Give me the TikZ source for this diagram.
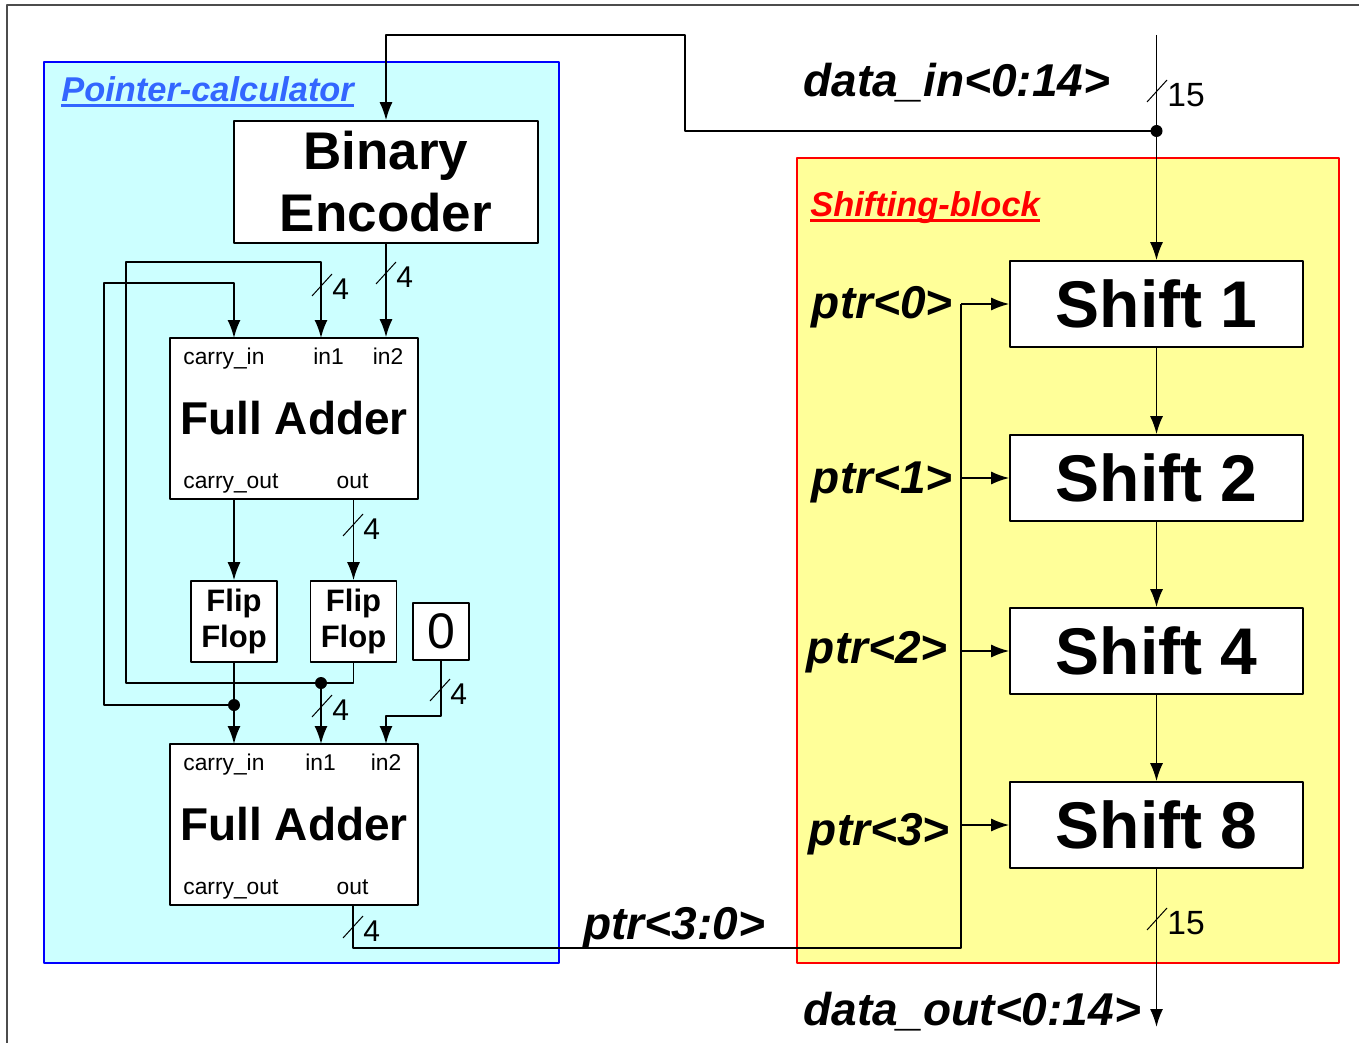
\documentclass[tikz,border=0pt]{standalone}
\usepackage{fontspec}
\setmainfont{Liberation Sans}
\usetikzlibrary{arrows.meta,calc}

\definecolor{calcfill}{RGB}{204,255,255}
\definecolor{calcblue}{RGB}{51,102,255}
\definecolor{shiftfill}{RGB}{255,255,153}

% bus width mark: name, x, y, label
\newcommand{\busmark}[4]{%
  \draw[slash] (#2-10,#3+11) -- (#2+10,#3-11);
  \node[buslbl,anchor=west] (#1) at (#2+10,#3+4) {#4};}
\newcommand{\widebus}{\fontsize{16.8}{19}\selectfont}

\begin{document}
\begin{tikzpicture}[x=0.5pt,y=-0.5pt,>={Latex[length=9pt,width=6.5pt]},line join=round,
    blk/.style={draw,fill=white,line width=0.8pt,inner sep=0pt},
    port/.style={font=\fontsize{11.4}{13}\selectfont,inner sep=0pt},
    sig/.style={font=\fontsize{23}{27}\selectfont\bfseries\itshape,inner sep=0pt},
    title/.style={font=\fontsize{17.2}{20}\selectfont\bfseries\itshape,inner sep=0pt,anchor=base west},
    wire/.style={line width=0.9pt},
    slash/.style={line width=0.5pt},
    buslbl/.style={font=\fontsize{15}{17}\selectfont,inner sep=0pt}]
  \useasboundingbox (0,0) rectangle (1359,1043);
  \draw[black!70,line width=1pt] (7,1043) -- (7,5) -- (1359,5);

  % the two blocks
  \draw[blue,fill=calcfill,line width=0.75pt] (44,62) rectangle (559,963);
  \draw[red,fill=shiftfill,line width=0.75pt] (797,158) rectangle (1339,963);
  \node[title,text=calcblue] (pctitle) at (61,102) {Pointer-calculator};
  \draw[calcblue,line width=1.5pt] ($(pctitle.base west)+(0,4)$) -- ($(pctitle.base east)+(0,4)$);
  \node[title,text=red] (sbtitle) at (810,217) {Shifting-block};
  \draw[red,line width=1.5pt] ($(sbtitle.base west)+(0,4)$) -- ($(sbtitle.base east)+(0,4)$);

  % pointer calculator
  \node[blk,minimum width=152pt,minimum height=61pt,align=center,
        font=\fontsize{26.5}{31}\selectfont\bfseries] (enc) at (386,182) {Binary\\Encoder};
  \node[blk,minimum width=124pt,minimum height=80.5pt,
        font=\fontsize{23}{27}\selectfont\bfseries] (fa1) at (294,418.5) {Full Adder};
  \node[blk,minimum width=124pt,minimum height=80.5pt,
        font=\fontsize{23}{27}\selectfont\bfseries] (fa2) at (294,824.5) {Full Adder};
  \node[blk,minimum width=43pt,minimum height=40.5pt,align=center,
        font=\fontsize{15.5}{18}\selectfont\bfseries] (ff1) at (234,621.5) {Flip\\Flop};
  \node[blk,minimum width=43pt,minimum height=40.5pt,align=center,
        font=\fontsize{15.5}{18}\selectfont\bfseries] (ff2) at (353.5,621.5) {Flip\\Flop};
  \node[blk,minimum width=28pt,minimum height=28.5pt,
        font=\fontsize{25}{30}\selectfont] (zero) at (441,631.5) {0};

  \node[port,anchor=base west] (l1ci) at (183,364) {carry\_in};
  \node[port,anchor=base] (l1in1) at (328.5,364) {in1};
  \node[port,anchor=base] (l1in2) at (388,364) {in2};
  \node[port,anchor=base west] (l1co) at (183,488) {carry\_out};
  \node[port,anchor=base] (l1out) at (352.5,488) {out};
  \node[port,anchor=base west] (l2ci) at (183,770) {carry\_in};
  \node[port,anchor=base] (l2in1) at (320.5,770) {in1};
  \node[port,anchor=base] (l2in2) at (386,770) {in2};
  \node[port,anchor=base west] (l2co) at (183,894) {carry\_out};
  \node[port,anchor=base] (l2out) at (352.5,894) {out};

  \coordinate (a1ci) at (234,338);
  \coordinate (a1in1) at (321,338);
  \coordinate (a2ci) at (234,744);
  \coordinate (a2in1) at (321,744);
  \coordinate (a2in2) at (386,744);
  \coordinate (a2out) at (353,905);
  \coordinate (cdot) at (234,705);
  \coordinate (sdot) at (321,683);

  \draw[wire,->] (enc.south) -- (enc.south |- fa1.north);
  \draw[wire,->] (fa1.south -| ff1.north) -- (ff1.north);
  \draw[wire,->] (fa1.south -| ff2.north) -- (ff2.north);
  \draw[wire,->] (ff2.south) |- (126,683) |- (321,262) -- (a1in1);
  \draw[wire,->] (sdot) -- (a2in1);
  \draw[wire,->] (ff1.south) -- (a2ci);
  \draw[wire,->] (cdot) -| (104,283) -| (a1ci);
  \draw[wire,->] (zero.south) |- (386,716) -- (a2in2);
  \fill (cdot) circle (3pt);
  \fill (sdot) circle (3pt);

  \busmark{w1}{386}{273}{4}
  \busmark{w2}{322}{285}{4}
  \busmark{w3}{353}{525}{4}
  \busmark{w4}{322}{706}{4}
  \busmark{w5}{440}{690}{4}
  \busmark{w6}{353}{927}{4}

  % shifting block
  \foreach \n/\y/\k in {sh1/304/1,sh2/478/2,sh4/651/4,sh8/825/8}
    \node[blk,minimum width=146.5pt,minimum height=43pt,
          font=\fontsize{33}{40}\selectfont\bfseries] (\n) at (1156.5,\y) {Shift \k};
  \draw[wire,->] (sh1.south) -- (sh2.north);
  \draw[wire,->] (sh2.south) -- (sh4.north);
  \draw[wire,->] (sh4.south) -- (sh8.north);

  \node[sig,anchor=base east] (p0) at (953,318) {ptr<0>};
  \node[sig,anchor=base east] (p1) at (953,493) {ptr<1>};
  \node[sig,anchor=base east] (p2) at (948,663) {ptr<2>};
  \node[sig,anchor=base east] (p3) at (950,845) {ptr<3>};

  % pointer bus
  \coordinate (ptrbus) at (961,948);
  \draw[wire] (a2out) |- (ptrbus) -- (ptrbus |- sh1.west);
  \foreach \n in {sh1,sh2,sh4,sh8}
    \draw[wire,->] (ptrbus |- \n.west) -- (\n.west);
  \node[sig,anchor=base west] (pbus) at (583,939) {ptr<3:0>};

  % data in and out
  \coordinate (din) at (1156.5,35);
  \coordinate (tap) at (1156.5,131);
  \coordinate (dout) at (1156.5,1027);
  \draw[wire,->] (din) -- (sh1.north);
  \draw[wire,->] (tap) -| (685,35) -| (enc.north);
  \fill (tap) circle (3pt);
  \draw[wire,->] (sh8.south) -- (dout);
  \busmark{w7}{1157}{91}{\widebus 15}
  \busmark{w8}{1157}{919}{\widebus 15}
  \node[sig,anchor=base west] (dinlbl) at (803,97) {data\_in<0:14>};
  \node[sig,anchor=base west] (doutlbl) at (803,1025) {data\_out<0:14>};
\end{tikzpicture}
\end{document}
